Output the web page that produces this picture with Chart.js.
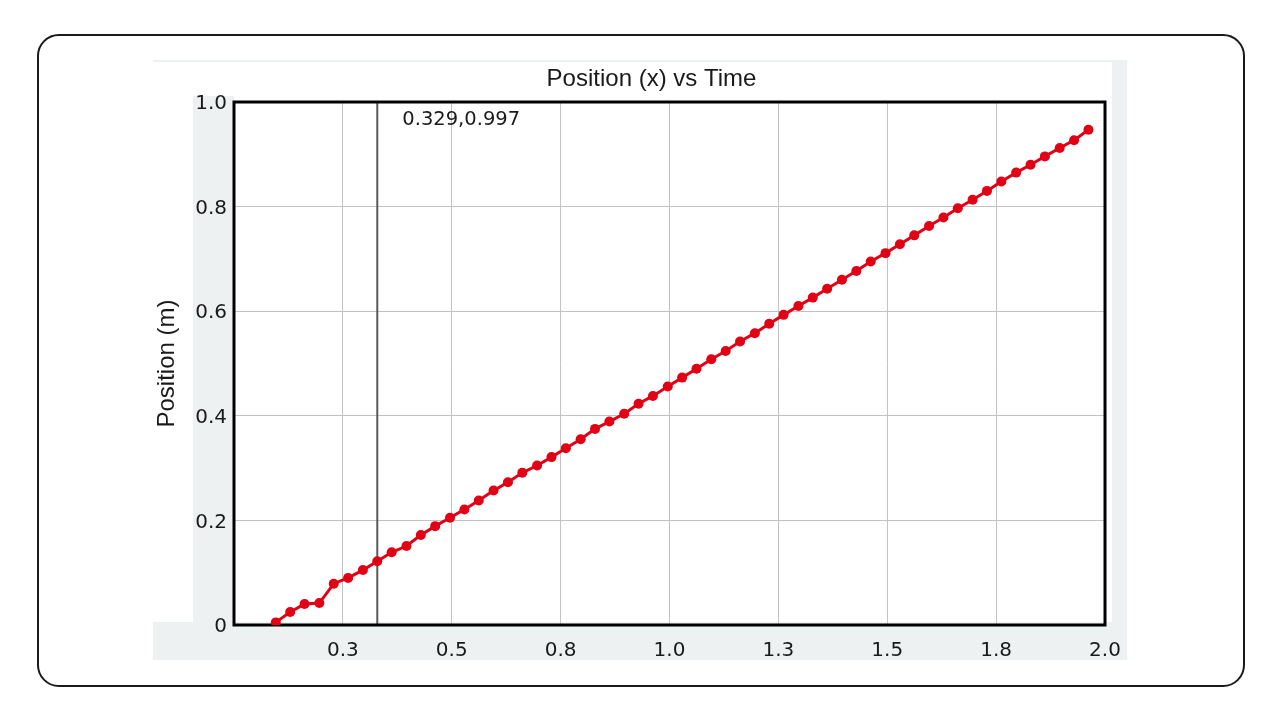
<!DOCTYPE html>
<html>
<head>
<meta charset="utf-8">
<script src="https://cdn.jsdelivr.net/npm/chart.js@4.4.1/dist/chart.umd.min.js"></script>
<style>
  body { margin: 0; background: #fff; }
  .frame {
    position: absolute; left: 37px; top: 34px; width: 1208px; height: 653px;
    border: 2px solid #1a1a1a; border-radius: 22px; box-sizing: border-box;
  }
  #canvas { position: absolute; left: 153px; top: 55px; }
</style>
</head>
<body>
<div class="frame"></div>
<canvas id="canvas" width="996" height="610"></canvas>
<script>
const chartTitle = 'Position (x) vs Time';
const yTitle = 'Position (m)';

// time (s) of each sample
const times = [
  0.096, 0.129, 0.162, 0.196, 0.229, 0.262, 0.296, 0.329, 0.362, 0.396,
  0.429, 0.462, 0.496, 0.529, 0.562, 0.596, 0.629, 0.662, 0.696, 0.729,
  0.762, 0.796, 0.829, 0.862, 0.896, 0.929, 0.962, 0.996, 1.029, 1.062,
  1.096, 1.129, 1.162, 1.196, 1.229, 1.262, 1.296, 1.329, 1.362, 1.396,
  1.429, 1.462, 1.496, 1.529, 1.562, 1.596, 1.629, 1.662, 1.696, 1.729,
  1.762, 1.796, 1.829, 1.862, 1.896, 1.929, 1.962
];
// position (m)
const positions = [
  0.005, 0.025, 0.040, 0.042, 0.079, 0.090, 0.105, 0.122, 0.139, 0.151,
  0.172, 0.189, 0.205, 0.221, 0.238, 0.257, 0.273, 0.291, 0.305, 0.321,
  0.338, 0.355, 0.375, 0.389, 0.404, 0.423, 0.438, 0.456, 0.473, 0.490,
  0.508, 0.524, 0.542, 0.558, 0.576, 0.593, 0.610, 0.626, 0.643, 0.660,
  0.677, 0.695, 0.711, 0.728, 0.745, 0.763, 0.779, 0.797, 0.813, 0.830,
  0.848, 0.865, 0.880, 0.896, 0.912, 0.927, 0.947
];

const xTickLabels = ['', '0.3', '0.5', '0.8', '1.0', '1.3', '1.5', '1.8', '2.0'];
const yTickLabels = ['0', '0.2', '0.4', '0.6', '0.8', '1.0'];

const cursorTime = 0.329;
const cursorText = '0.329,0.997';

const red = 'rgb(226, 0, 20)';
const ink = '#1a1a1a';
const tickFont = { family: '"DejaVu Sans", Verdana, sans-serif', size: 20 };

const frame = {
  id: 'frame',
  beforeDraw(chart) {
    const { ctx, chartArea: a } = chart;
    ctx.save();
    ctx.fillStyle = '#eef1f2';
    ctx.fillRect(0, a.bottom - 3, a.right + 22, 38);
    ctx.fillRect(a.left - 41, a.top - 6, 41, a.bottom - a.top + 6);
    ctx.fillRect(a.right + 7, a.top - 42, 15, a.bottom - a.top + 77);
    ctx.fillRect(0, a.top - 42, a.right + 22, 2);

    ctx.fillStyle = ink;
    ctx.font = '24px "Liberation Sans", Arial, sans-serif';
    ctx.textAlign = 'center';
    ctx.textBaseline = 'middle';
    ctx.fillText(chartTitle, (a.left + a.right) / 2 - 18, a.top - 23);
    ctx.restore();
  },
  beforeDatasetsDraw(chart) {
    const { ctx, chartArea: a, scales: { x } } = chart;
    const cx = x.getPixelForValue(cursorTime);
    ctx.save();
    ctx.strokeStyle = '#5a5a5a';
    ctx.lineWidth = 2;
    ctx.beginPath();
    ctx.moveTo(cx, a.top);
    ctx.lineTo(cx, a.bottom);
    ctx.stroke();

    ctx.strokeStyle = '#000';
    ctx.lineWidth = 3;
    ctx.strokeRect(a.left, a.top, a.right - a.left, a.bottom - a.top);

    ctx.fillStyle = ink;
    ctx.font = '19.5px "DejaVu Sans", Verdana, sans-serif';
    ctx.textAlign = 'left';
    ctx.textBaseline = 'middle';
    ctx.fillText(cursorText, cx + 25, a.top + 18);
    ctx.restore();
  }
};

const ctx = document.getElementById('canvas').getContext('2d');
const myChart = new Chart(ctx, {
  type: 'line',
  data: {
    datasets: [{
      data: times.map((t, i) => ({ x: t, y: positions[i] })),
      borderColor: red,
      backgroundColor: red,
      borderWidth: 3,
      pointRadius: 5,
      pointBorderWidth: 0,
      pointBackgroundColor: red,
      tension: 0
    }]
  },
  options: {
    responsive: false,
    animation: false,
    devicePixelRatio: 1,
    layout: { padding: { top: 47, right: 44, left: 0, bottom: 0 } },
    scales: {
      x: {
        type: 'linear',
        min: 0,
        max: 2,
        afterFit: (s) => { s.height = 40; },
        ticks: {
          stepSize: 0.25,
          padding: 14,
          color: ink,
          font: tickFont,
          maxRotation: 0,
          autoSkip: false,
          callback: (v, i) => xTickLabels[i]
        },
        grid: { color: '#c2c2c2', lineWidth: 1, drawTicks: false },
        border: { display: false }
      },
      y: {
        min: 0,
        max: 1,
        afterFit: (s) => { s.width = 81; },
        ticks: {
          stepSize: 0.2,
          padding: 7,
          labelOffset: 2,
          color: ink,
          font: tickFont,
          callback: (v, i) => yTickLabels[i]
        },
        grid: { color: '#c2c2c2', lineWidth: 1, drawTicks: false },
        border: { display: false },
        title: {
          display: true,
          text: yTitle,
          color: ink,
          font: { family: '"Liberation Sans", Arial, sans-serif', size: 24 },
          padding: { top: 0, bottom: 0 }
        }
      }
    },
    plugins: {
      legend: { display: false },
      tooltip: { enabled: false }
    }
  },
  plugins: [frame]
});
</script>
</body>
</html>
